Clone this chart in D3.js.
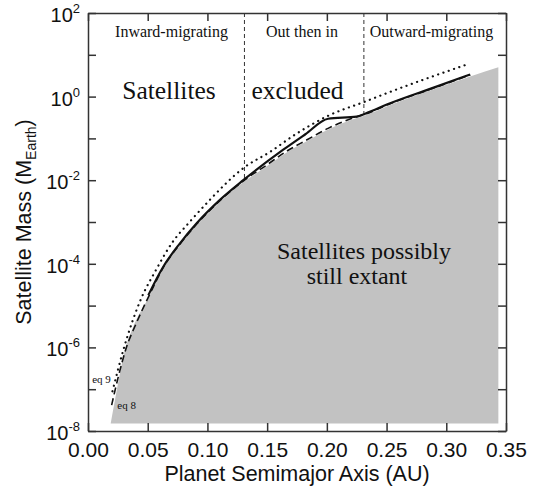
<!DOCTYPE html>
<html>
<head>
<meta charset="utf-8">
<script src="https://d3js.org/d3.v7.min.js"></script>
<style>
  body { margin: 0; background: #fff; }
  .serif { font-family: "Liberation Serif", "Times New Roman", serif; fill: #111; }
  .sans { font-family: "Liberation Sans", Arial, Helvetica, sans-serif; fill: #111; }
  .axis path, .axis line { stroke: #333; stroke-width: 1.5; }
</style>
</head>
<body>
<svg id="chart" width="540" height="493"></svg>
<script>
// semimajor axis (AU), log10 of satellite mass (M_Earth)
const fillEdge = [[0.019,-7.82],[0.0226,-7.26],[0.031,-6.06],[0.038,-5.50],[0.0505,-4.82],
  [0.063,-4.12],[0.077,-3.56],[0.091,-3.08],[0.1105,-2.52],[0.130,-2.05],[0.150,-1.66],
  [0.165,-1.36],[0.183,-1.07],[0.201,-0.79],[0.225,-0.51],[0.232,-0.45],[0.253,-0.20],
  [0.29,0.18],[0.32,0.48],[0.3436,0.70]];
const fillBottom = -7.82;

const eq8 = [[0.0198,-7.38],[0.0254,-6.70],[0.0324,-5.98],[0.040,-5.45],[0.052,-4.71],
  [0.063,-4.09],[0.077,-3.53],[0.091,-3.05],[0.1105,-2.49],[0.130,-2.02],[0.150,-1.63],
  [0.165,-1.33],[0.183,-1.04],[0.201,-0.76],[0.225,-0.48],[0.232,-0.42],[0.253,-0.17],
  [0.29,0.21],[0.32,0.52]];

const eq9 = [[0.0205,-7.05],[0.0296,-6.06],[0.045,-4.80],[0.0561,-4.19],[0.0701,-3.51],
  [0.0854,-2.99],[0.1007,-2.51],[0.1315,-1.68],[0.152,-1.33],[0.1733,-0.91],[0.201,-0.46],
  [0.232,-0.12],[0.250,0.08],[0.316,0.756]];

const combined = [[0.0505,-4.75],[0.063,-4.07],[0.077,-3.51],[0.091,-3.03],[0.1105,-2.47],
  [0.130,-2.0],[0.1635,-1.27],[0.182,-0.90],[0.201,-0.53],[0.225,-0.48],[0.232,-0.41],
  [0.253,-0.16],[0.29,0.22],[0.32,0.53]];

// region boundaries: semimajor axis and the mass where they meet the curve
const dividerA = [0.131, 0.231];
const dividerLogM = [-2.02, -0.43];

const xTicks = [0, 0.05, 0.10, 0.15, 0.20, 0.25, 0.30, 0.35];
const yDecades = [-8, -7, -6, -5, -4, -3, -2, -1, 0, 1, 2];
const yLabelPowers = [2, 0, -2, -4, -6, -8];

const svg = d3.select("svg#chart");
const width = +svg.attr("width");
const height = +svg.attr("height");
const margin = { top: 13, right: 34, bottom: 62, left: 88 };

const x = d3.scaleLinear().domain([0, 0.35]).range([margin.left, width - margin.right]);
const y = d3.scaleLog().domain([1e-8, 1e2]).range([height - margin.bottom, margin.top]);
const ym = v => y(Math.pow(10, v));

// shaded region
const area = d3.area()
  .x(d => x(d[0]))
  .y0(ym(fillBottom))
  .y1(d => ym(d[1]))
  .curve(d3.curveMonotoneX);

svg.append("path").datum(fillEdge)
  .attr("d", area)
  .attr("fill", "#c2c2c2");

const line = d3.line()
  .x(d => x(d[0]))
  .y(d => ym(d[1]))
  .curve(d3.curveMonotoneX);

// region dividers
svg.selectAll("line.divider").data(dividerA)
  .join("line")
  .attr("class", "divider")
  .attr("x1", d => x(d)).attr("x2", d => x(d))
  .attr("y1", y(1e2))
  .attr("y2", (d, i) => ym(dividerLogM[i]))
  .attr("stroke", "#333")
  .attr("stroke-width", 1)
  .attr("stroke-dasharray", "4,3");

svg.append("path").datum(eq9)
  .attr("d", line)
  .attr("fill", "none")
  .attr("stroke", "#111")
  .attr("stroke-width", 2.2)
  .attr("stroke-linecap", "round")
  .attr("stroke-dasharray", "0.1,5.5");

svg.append("path").datum(eq8)
  .attr("d", line)
  .attr("fill", "none")
  .attr("stroke", "#111")
  .attr("stroke-width", 1.6)
  .attr("stroke-dasharray", "7,4");

svg.append("path").datum(combined)
  .attr("d", line)
  .attr("fill", "none")
  .attr("stroke", "#111")
  .attr("stroke-width", 2.2);

// axes, ticks pointing inward
const bottom = svg.append("g").attr("class", "axis")
  .attr("transform", `translate(0,${height - margin.bottom})`)
  .call(d3.axisBottom(x).tickValues(xTicks).tickSize(-8).tickSizeOuter(0)
    .tickPadding(11).tickFormat(d3.format(".2f")));
bottom.selectAll("text")
  .attr("class", "sans")
  .style("font-size", "21px")
  .attr("fill", "#111");

svg.append("g").attr("class", "axis")
  .attr("transform", `translate(0,${margin.top})`)
  .call(d3.axisTop(x).tickValues(xTicks).tickSize(-8).tickSizeOuter(0).tickFormat(""));

svg.append("g").attr("class", "axis")
  .attr("transform", `translate(${margin.left},0)`)
  .call(d3.axisLeft(y).tickValues(yDecades.map(p => Math.pow(10, p)))
    .tickSize(-8).tickSizeOuter(0).tickFormat(""));

svg.append("g").attr("class", "axis")
  .attr("transform", `translate(${width - margin.right},0)`)
  .call(d3.axisRight(y).tickValues(yDecades.map(p => Math.pow(10, p)))
    .tickSize(-8).tickSizeOuter(0).tickFormat(""));

svg.selectAll("path.domain").attr("fill", "none");

// y tick labels 10^n
const ylab = svg.selectAll("text.ylab").data(yLabelPowers)
  .join("text")
  .attr("class", "ylab sans")
  .attr("x", margin.left - 8)
  .attr("y", d => y(Math.pow(10, d)) + 9)
  .attr("text-anchor", "end");
ylab.append("tspan").style("font-size", "20px").text("10");
ylab.append("tspan").style("font-size", "13px").attr("dy", -9).text(d => d);

// axis titles
svg.append("text")
  .attr("class", "sans")
  .attr("x", (x(0) + x(0.35)) / 2)
  .attr("y", 481)
  .attr("text-anchor", "middle")
  .style("font-size", "21.5px")
  .text("Planet Semimajor Axis (AU)");

const ytitle = svg.append("text")
  .attr("class", "sans")
  .attr("transform", `translate(31,${(y(1e2) + y(1e-8)) / 2}) rotate(-90)`)
  .attr("text-anchor", "middle")
  .style("font-size", "21.5px");
ytitle.append("tspan").text("Satellite Mass (M");
ytitle.append("tspan").style("font-size", "14px").attr("dy", 5).text("Earth");
ytitle.append("tspan").attr("dy", -5).text(")");

// annotations
const notes = [
  { a: 0.0699, m: 1.42, size: 16, text: "Inward-migrating" },
  { a: 0.1792, m: 1.42, size: 16, text: "Out then in" },
  { a: 0.2876, m: 1.42, size: 16, text: "Outward-migrating" },
  { a: 0.0678, m: -0.05, size: 25.5, text: "Satellites" },
  { a: 0.1754, m: -0.05, size: 25.5, text: "excluded" },
  { a: 0.2311, m: -3.88, size: 24, text: "Satellites possibly" },
  { a: 0.2252, m: -4.48, size: 24, text: "still extant" },
  { a: 0.0035, m: -6.86, size: 11, text: "eq 9" },
  { a: 0.0245, m: -7.48, size: 11, text: "eq 8" }
];
svg.selectAll("text.note").data(notes)
  .join("text")
  .attr("class", "note serif")
  .attr("x", d => x(d.a))
  .attr("y", d => ym(d.m))
  .attr("text-anchor", (d, i) => i >= 7 ? "start" : "middle")
  .style("font-size", d => d.size + "px")
  .text(d => d.text);
</script>
</body>
</html>
